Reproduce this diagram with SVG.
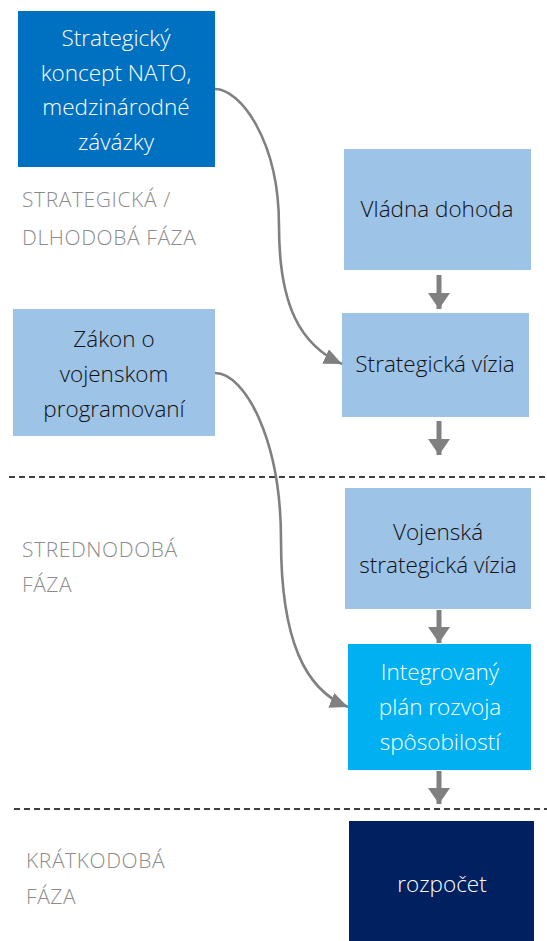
<svg xmlns="http://www.w3.org/2000/svg" width="547" height="941" viewBox="0 0 547 941">
  <style>
    .box-dark { fill: #0070C0; }
    .box-light { fill: #9DC3E6; }
    .box-cyan { fill: #00B0F0; }
    .box-navy { fill: #002060; }
    .t { font-family: "Open Sans", "Noto Sans", "DejaVu Sans", sans-serif; font-size: 22.5px; font-weight: 300; text-anchor: middle; }
    .t-white { fill: #ffffff; }
    .t-black { fill: #111111; font-weight: 350; }
    .phase { font-family: "Open Sans", "Noto Sans", "DejaVu Sans", sans-serif; font-size: 21px; font-weight: 300; letter-spacing: 0.6px; fill: #8c8c8c; }
    .divider { stroke: #000000; stroke-width: 1.3; stroke-dasharray: 6 4; fill: none; }
    .curve { stroke: #808080; stroke-width: 2.6; fill: none; marker-end: url(#curveHead); }
    .down { stroke: #808080; stroke-width: 5; fill: none; marker-end: url(#downHead); }
  </style>
  <defs>
    <marker id="curveHead" markerUnits="userSpaceOnUse" markerWidth="20" markerHeight="16" refX="18" refY="8" orient="auto">
      <path d="M0,0 L18,8 L0,16 Z" fill="#808080"/>
    </marker>
    <marker id="downHead" markerUnits="userSpaceOnUse" markerWidth="18" markerHeight="22" refX="16" refY="11" orient="auto">
      <path d="M0,0 L16,11 L0,22 Z" fill="#808080"/>
    </marker>
  </defs>

  <rect width="547" height="941" fill="#ffffff"/>

  <!-- phase dividers -->
  <line class="divider" x1="9" y1="477" x2="547" y2="477"/>
  <line class="divider" x1="14" y1="809" x2="547" y2="809"/>

  <!-- phase labels -->
  <g id="phase-long">
    <text class="phase" x="22" y="207">STRATEGICKÁ /</text>
    <text class="phase" x="22" y="245">DLHODOBÁ FÁZA</text>
  </g>
  <g id="phase-mid">
    <text class="phase" x="22" y="557">STREDNODOBÁ</text>
    <text class="phase" x="22" y="592">FÁZA</text>
  </g>
  <g id="phase-short">
    <text class="phase" x="26" y="868">KRÁTKODOBÁ</text>
    <text class="phase" x="26" y="904">FÁZA</text>
  </g>

  <!-- nodes -->
  <g id="nato">
    <rect class="box-dark" x="18" y="11" width="197" height="156"/>
    <text class="t t-white" x="116" y="46">Strategický</text>
    <text class="t t-white" x="116" y="81">koncept NATO,</text>
    <text class="t t-white" x="116" y="115">medzinárodné</text>
    <text class="t t-white" x="116" y="150">závázky</text>
  </g>

  <g id="vladna-dohoda">
    <rect class="box-light" x="344" y="149" width="187" height="121"/>
    <text class="t t-black" x="437" y="217">Vládna dohoda</text>
  </g>

  <g id="zakon">
    <rect class="box-light" x="13" y="309" width="202" height="127"/>
    <text class="t t-black" x="114" y="347">Zákon o</text>
    <text class="t t-black" x="114" y="382">vojenskom</text>
    <text class="t t-black" x="114" y="417">programovaní</text>
  </g>

  <g id="strategicka-vizia">
    <rect class="box-light" x="342" y="313" width="187" height="104"/>
    <text class="t t-black" x="435" y="372">Strategická vízia</text>
  </g>

  <g id="vojenska-vizia">
    <rect class="box-light" x="345" y="488" width="186" height="121"/>
    <text class="t t-black" x="438" y="540">Vojenská</text>
    <text class="t t-black" x="438" y="573">strategická vízia</text>
  </g>

  <g id="integrovany-plan">
    <rect class="box-cyan" x="348" y="644" width="183" height="126"/>
    <text class="t t-white" x="440" y="680">Integrovaný</text>
    <text class="t t-white" x="440" y="715">plán rozvoja</text>
    <text class="t t-white" x="440" y="750">spôsobilostí</text>
  </g>

  <g id="rozpocet">
    <rect class="box-navy" x="349" y="821" width="185" height="120"/>
    <text class="t t-white" x="442" y="892">rozpočet</text>
  </g>

  <!-- connectors -->
  <g id="connectors">
    <path class="curve" d="M215,89 C240,89 279,140 279,226 C279,305 300,345 342,364"/>
    <path class="curve" d="M215,373 C245,373 281,440 281,540 C281,640 305,690 348,707"/>
    <line class="down" x1="439" y1="275" x2="439" y2="309"/>
    <line class="down" x1="439" y1="421" x2="439" y2="455"/>
    <line class="down" x1="439" y1="610" x2="439" y2="643"/>
    <line class="down" x1="439" y1="771" x2="439" y2="804"/>
  </g>
</svg>
